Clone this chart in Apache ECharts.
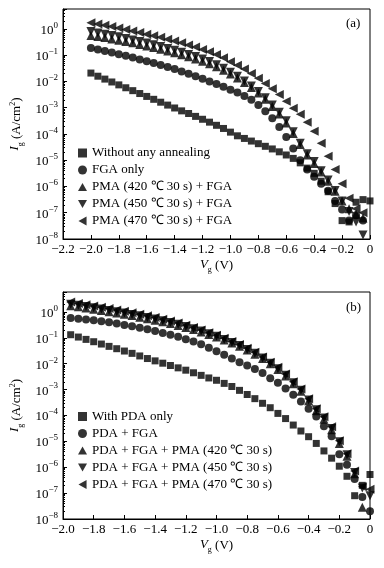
<!DOCTYPE html>
<html><head><meta charset="utf-8">
<script src="https://cdn.jsdelivr.net/npm/echarts@6/dist/echarts.min.js"></script>
<style>html,body{margin:0;padding:0;background:#fff}#c{width:384px;height:568px}</style>
</head><body><div id="c"></div><script>
// Gate voltage (V)
const V_A = [-2.0,-1.95,-1.9,-1.85,-1.8,-1.75,-1.7,-1.65,-1.6,-1.55,-1.5,-1.45,-1.4,-1.35,-1.3,-1.25,-1.2,-1.15,-1.1,-1.05,-1.0,-0.95,-0.9,-0.85,-0.8,-0.75,-0.7,-0.65,-0.6,-0.55,-0.5,-0.45,-0.4,-0.35,-0.3,-0.25,-0.2,-0.15,-0.1,-0.05,0];
const V_B = [-1.95,-1.9,-1.85,-1.8,-1.75,-1.7,-1.65,-1.6,-1.55,-1.5,-1.45,-1.4,-1.35,-1.3,-1.25,-1.2,-1.15,-1.1,-1.05,-1.0,-0.95,-0.9,-0.85,-0.8,-0.75,-0.7,-0.65,-0.6,-0.55,-0.5,-0.45,-0.4,-0.35,-0.3,-0.25,-0.2,-0.15,-0.1,-0.05,0];
// Gate current density, read as log10(Ig / (A/cm2))
// panel (a)
const noAnnealA = [-1.68,-1.80,-1.91,-2.02,-2.13,-2.24,-2.35,-2.46,-2.57,-2.68,-2.79,-2.90,-3.01,-3.12,-3.22,-3.33,-3.44,-3.55,-3.67,-3.79,-3.93,-4.07,-4.17,-4.27,-4.37,-4.47,-4.57,-4.68,-4.80,-4.93,-5.10,-5.30,-5.50,-5.80,-6.20,-6.65,-7.30,-7.35,-6.60,-6.50,-6.55];
const fgaOnlyA = [-0.73,-0.78,-0.84,-0.90,-0.96,-1.02,-1.09,-1.16,-1.23,-1.30,-1.37,-1.45,-1.53,-1.62,-1.71,-1.80,-1.90,-2.00,-2.10,-2.20,-2.32,-2.42,-2.55,-2.70,-2.90,-3.13,-3.40,-3.73,-4.12,-4.55,-5.00,-5.35,-5.63,-5.90,-6.16,-6.55,-6.88,-7.30,-7.10,-7.30,null];
const pma420A = [-0.25,-0.29,-0.33,-0.38,-0.43,-0.48,-0.53,-0.59,-0.65,-0.71,-0.77,-0.84,-0.91,-0.98,-1.06,-1.14,-1.23,-1.33,-1.44,-1.57,-1.72,-1.87,-2.04,-2.23,-2.44,-2.68,-2.95,-3.24,-3.58,-3.98,-4.40,-4.80,-5.12,-5.45,-5.80,-6.18,-6.55,-6.85,-7.05,-7.20,null];
const pma450A = [-0.10,-0.15,-0.20,-0.25,-0.30,-0.36,-0.42,-0.48,-0.54,-0.60,-0.67,-0.74,-0.81,-0.89,-0.97,-1.05,-1.14,-1.24,-1.36,-1.50,-1.65,-1.80,-1.98,-2.17,-2.38,-2.62,-2.90,-3.17,-3.50,-3.92,-4.35,-4.75,-5.05,-5.40,-5.75,-6.15,-6.55,-6.95,-7.35,-7.85,null];
const pma470A = [0.24,0.19,0.14,0.09,0.04,-0.02,-0.08,-0.14,-0.20,-0.26,-0.32,-0.39,-0.46,-0.53,-0.61,-0.69,-0.78,-0.87,-0.97,-1.10,-1.25,-1.38,-1.53,-1.70,-1.88,-2.08,-2.28,-2.50,-2.75,-3.02,-3.25,-3.55,-3.90,-4.35,-4.85,-5.35,-5.90,-6.45,-6.85,-7.00,null];
// panel (b)
const pdaOnlyB = [-0.88,-0.97,-1.06,-1.15,-1.24,-1.33,-1.42,-1.51,-1.60,-1.70,-1.80,-1.89,-1.98,-2.07,-2.16,-2.25,-2.35,-2.45,-2.55,-2.64,-2.76,-2.88,-3.03,-3.19,-3.35,-3.53,-3.70,-3.92,-4.12,-4.37,-4.60,-4.82,-5.08,-5.37,-5.65,-5.96,-6.35,-7.10,-6.70,-6.28];
const pdaFgaB = [-0.23,-0.26,-0.29,-0.32,-0.36,-0.40,-0.45,-0.50,-0.55,-0.61,-0.67,-0.74,-0.81,-0.88,-0.96,-1.05,-1.14,-1.25,-1.38,-1.52,-1.65,-1.80,-1.94,-2.07,-2.20,-2.36,-2.56,-2.74,-2.96,-3.20,-3.46,-3.74,-4.04,-4.42,-4.80,-5.50,-5.90,-6.45,-7.15,-7.70];
const pma420B = [0.24,0.20,0.15,0.10,0.06,0.01,-0.04,-0.09,-0.14,-0.20,-0.26,-0.32,-0.38,-0.45,-0.52,-0.60,-0.68,-0.77,-0.87,-0.97,-1.08,-1.20,-1.33,-1.47,-1.63,-1.80,-2.00,-2.22,-2.47,-2.77,-3.06,-3.43,-3.82,-4.15,-4.55,-5.08,-5.58,-6.25,-7.55,null];
const pma450B = [0.30,0.26,0.21,0.16,0.11,0.06,0.01,-0.04,-0.10,-0.15,-0.21,-0.27,-0.34,-0.41,-0.48,-0.56,-0.65,-0.74,-0.84,-0.94,-1.06,-1.18,-1.30,-1.45,-1.60,-1.78,-1.98,-2.19,-2.45,-2.74,-3.03,-3.40,-3.78,-4.10,-4.50,-5.02,-5.52,-6.20,-6.80,-7.10];
const pma470B = [0.38,0.33,0.28,0.23,0.18,0.13,0.08,0.03,-0.03,-0.09,-0.15,-0.21,-0.28,-0.35,-0.43,-0.51,-0.60,-0.70,-0.80,-0.90,-1.02,-1.14,-1.26,-1.40,-1.56,-1.74,-1.94,-2.14,-2.40,-2.70,-2.98,-3.35,-3.74,-4.05,-4.44,-4.98,-5.48,-6.15,-6.75,-6.85];

const namesA = ['Without any annealing','FGA only','PMA (420 \u2103 30 s) + FGA','PMA (450 \u2103 30 s) + FGA','PMA (470 \u2103 30 s) + FGA'];
const namesB = ['With PDA only','PDA + FGA','PDA + FGA + PMA (420 \u2103 30 s)','PDA + FGA + PMA (450 \u2103 30 s)','PDA + FGA + PMA (470 \u2103 30 s)'];
const xTicksA = {min:-2.2, max:0, step:0.2};
const xTicksB = {min:-2.0, max:0, step:0.2};
const yRangeA = {min:1e-8, max:5.75};
const yRangeB = {min:1e-8, max:5.9};

const FF = '"Liberation Serif","Times New Roman",serif';
const symbols = [
  {symbol:'rect', size:7, rot:0, icon:'rect'},
  {symbol:'circle', size:8, rot:0, icon:'circle'},
  {symbol:'triangle', size:9, rot:0, icon:'path://M5,0 L10,9 L0,9 Z'},
  {symbol:'triangle', size:9, rot:180, icon:'path://M0,0 L10,0 L5,9 Z'},
  {symbol:'triangle', size:9, rot:90, icon:'path://M9,0 L9,10 L0,5 Z'}
];
function pts(V, L){ const out=[]; for(let i=0;i<V.length;i++){ if(L[i]!=null) out.push([V[i], Math.pow(10, L[i])]); } return out; }

function xAx(gi, t){ return {type:'value', gridIndex:gi, min:t.min, max:t.max, interval:t.step,
  axisLine:{show:true,onZero:false,lineStyle:{color:'#000',width:1}},
  axisTick:{show:true,inside:true,length:4,lineStyle:{color:'#000'}},
  splitLine:{show:false},
  axisLabel:{color:'#000',fontFamily:FF,fontSize:13,margin:4,
    formatter:v=>{ if(Math.abs(v)<1e-9) return '0'; return (v<0?'\u2212':'')+Math.abs(v).toFixed(1);} },
  name:'{i|V}{s|g} (V)', nameLocation:'middle', nameGap:19,
  nameTextStyle:{color:'#000',fontFamily:FF,fontSize:13, rich:{i:{fontStyle:'italic',fontFamily:FF,fontSize:13,lineHeight:16,verticalAlign:'top'},s:{fontFamily:FF,fontSize:8,lineHeight:16,verticalAlign:'bottom'}}}
}; }
function yAx(gi, r){ return {type:'log', logBase:10, gridIndex:gi, min:r.min, max:r.max, splitNumber:9, position:'left',
  axisLine:{show:true,onZero:false,lineStyle:{color:'#000',width:1}},
  axisTick:{show:true,inside:true,length:4,lineStyle:{color:'#000'}},
  minorTick:{show:true,splitNumber:9,length:2,lineStyle:{color:'#000'}},
  splitLine:{show:false}, minorSplitLine:{show:false},
  axisLabel:{color:'#000',fontFamily:FF,fontSize:13,margin:5, showMaxLabel:false,
    formatter:v=>{ const e=Math.log10(v), k=Math.round(e); if(Math.abs(e-k)>1e-6) return ''; return '{b|10}{s|'+(k<0?'\u2212'+(-k):k)+'}'; },
    rich:{b:{fontFamily:FF,fontSize:13,lineHeight:16,verticalAlign:'bottom',color:'#000'},s:{fontFamily:FF,fontSize:9,lineHeight:16,verticalAlign:'top',color:'#000'}}},
  name:'{i|I}{s|g} (A/cm{p|2})', nameLocation:'middle', nameGap:33, nameRotate:90,
  nameTextStyle:{color:'#000',fontFamily:FF,fontSize:13, rich:{i:{fontStyle:'italic',fontFamily:FF,fontSize:13,lineHeight:16,verticalAlign:'top'},s:{fontFamily:FF,fontSize:8,lineHeight:16,verticalAlign:'bottom'},p:{fontFamily:FF,fontSize:8,lineHeight:16,verticalAlign:'top'}}}
}; }

const seriesA = [noAnnealA, fgaOnlyA, pma420A, pma450A, pma470A];
const seriesB = [pdaOnlyB, pdaFgaB, pma420B, pma450B, pma470B];
const series = [];
seriesA.forEach((L,i)=>series.push({type:'scatter', name:namesA[i], xAxisIndex:0, yAxisIndex:0, data:pts(V_A,L),
  symbol:symbols[i].symbol, symbolSize:symbols[i].size, symbolRotate:symbols[i].rot, itemStyle:{color:'#000'}, z:10-i}));
seriesB.forEach((L,i)=>series.push({type:'scatter', name:namesB[i], xAxisIndex:1, yAxisIndex:1, data:pts(V_B,L),
  symbol:symbols[i].symbol, symbolSize:symbols[i].size, symbolRotate:symbols[i].rot, itemStyle:{color:'#000'}, z:10-i}));

const legendCommon = {orient:'vertical', itemWidth:9, itemHeight:9, itemGap:4, padding:0, selectedMode:false,
  textStyle:{color:'#000',fontFamily:FF,fontSize:13,lineHeight:13}};
const legData = names => names.map((n,i)=>({name:n, icon:symbols[i].icon}));

const chart = echarts.init(document.getElementById('c'), null, {renderer:'canvas'});
chart.setOption({
  animation:false, backgroundColor:'#fff',
  grid:[
    {left:63, top:9, width:307, height:230, show:true, borderColor:'#000', borderWidth:1, containLabel:false},
    {left:63, top:292, width:307, height:227, show:true, borderColor:'#000', borderWidth:1, containLabel:false}
  ],
  xAxis:[xAx(0,xTicksA), xAx(1,xTicksB)],
  yAxis:[yAx(0,yRangeA), yAx(1,yRangeB)],
  legend:[
    Object.assign({data:legData(namesA), left:78, top:146.5}, legendCommon),
    Object.assign({data:legData(namesB), left:78, top:410}, legendCommon)
  ],
  graphic:[
    {type:'text', left:346, top:17, style:{text:'(a)', fill:'#000', font:'13px '+FF}},
    {type:'text', left:346, top:301, style:{text:'(b)', fill:'#000', font:'13px '+FF}}
  ],
  series:series
});
</script></body></html>
